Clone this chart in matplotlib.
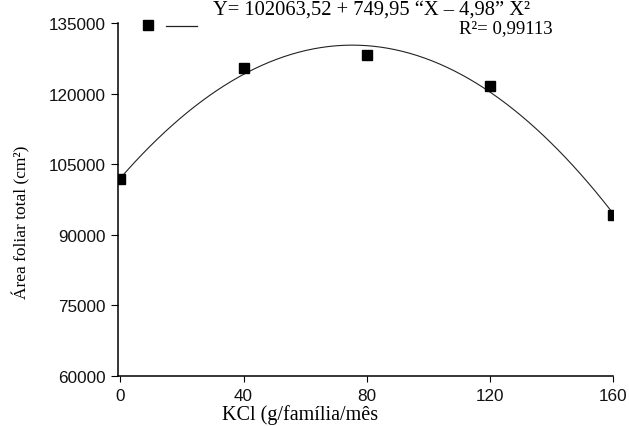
import numpy as np
import matplotlib
matplotlib.use("Agg")
import matplotlib.pyplot as plt
from matplotlib.lines import Line2D

# data
kcl = [0, 40, 80, 120, 160]
area = [101750, 125450, 128200, 121700, 94300]
# fitted quadratic as printed on the chart (c0, c1, c2)
coef = [102063.52, 749.95, -4.98]
xticks = [0, 40, 80, 120, 160]
yticks = [60000, 75000, 90000, 105000, 120000, 135000]

W, H = 629, 427
fig = plt.figure(figsize=(W / 100, H / 100), dpi=100)
# axes box in pixels: left 118, right 613, top 24, bottom 377
ax = fig.add_axes([118 / W, 1 - 377 / H, (613 - 118) / W, (377 - 24) / H])

xs = np.linspace(0, 160, 200)
ys = np.polyval(coef[::-1], xs)
ax.plot(xs, ys, color='#222222', lw=0.8, zorder=2)
ax.plot(kcl, area, ls='none', marker='s', ms=6.7, color='black', zorder=3)

ax.set_xlim(-0.8, 160)
ax.set_ylim(60000, 135000)
ax.set_xticks(xticks)
ax.set_yticks(yticks)
for sp in ['top', 'right']:
    ax.spines[sp].set_visible(False)
for sp in ['left', 'bottom']:
    ax.spines[sp].set_linewidth(1.1)
ax.tick_params(axis='x', direction='out', length=4.3, width=0.8, pad=4.5)
ax.tick_params(axis='y', direction='out', length=5, width=0.8, pad=4)
for lab in ax.get_xticklabels() + ax.get_yticklabels():
    lab.set_fontfamily('Liberation Sans')
    lab.set_fontsize(12.3)
    lab.set_color('#111111')

ax.set_xlabel('KCl (g/família/mês', family='Liberation Serif', fontsize=14.5)
ax.xaxis.set_label_coords((300 - 118) / 495, (377 - 405) / 353)
ax.set_ylabel('Área foliar total (cm²)', family='Liberation Serif', fontsize=12.5)
ax.yaxis.set_label_coords((30 - 118) / 495, (377 - 222) / 353)

# legend drawn by hand
fig.add_artist(Line2D([148 / W], [1 - 26 / H], marker='s', ms=6.7, color='black', ls='none'))
fig.add_artist(Line2D([166 / W, 197 / W], [1 - 27 / H, 1 - 27 / H], color='#222222', lw=0.9))
fig.text(213 / W, 1 - 15 / H, 'Y= 102063,52 + 749,95 \u201cX \u2013 4,98\u201d X\u00b2',
         family='Liberation Serif', fontsize=14.8, va='baseline', ha='left')
fig.text(553 / W, 1 - 33 / H, 'R\u00b2= 0,99113',
         family='Liberation Serif', fontsize=13.5, va='baseline', ha='right')

fig.savefig('out.png', dpi=100)
